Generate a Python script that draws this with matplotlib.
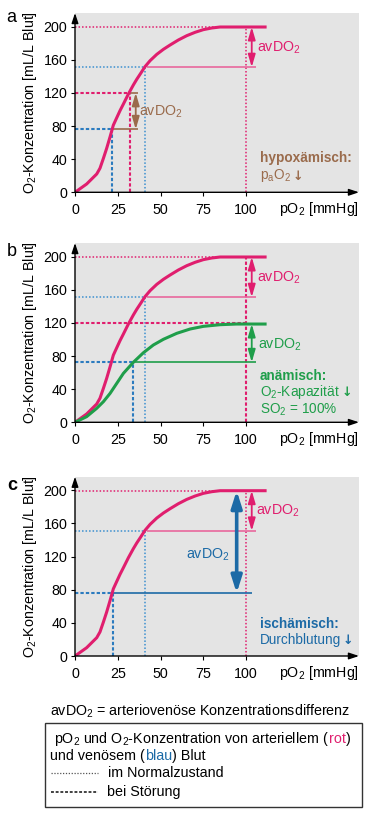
import matplotlib
matplotlib.use('Agg')
import matplotlib.pyplot as plt
from matplotlib.patches import Rectangle
from matplotlib.lines import Line2D

plt.rcParams['font.family'] = ['Liberation Sans', 'DejaVu Sans']
plt.rcParams['mathtext.fontset'] = 'custom'
plt.rcParams['mathtext.rm'] = 'Liberation Sans'
plt.rcParams['mathtext.it'] = 'Liberation Sans:italic'
plt.rcParams['mathtext.bf'] = 'Liberation Sans:bold'
plt.rcParams['mathtext.default'] = 'regular'

# ---------------- data ----------------
art_po2 = [0, 6.8, 12.7, 14.6, 16.6, 18.5, 20.5, 22.4, 24.4, 26.3, 28.3, 31.2, 34.1,
           36.1, 38.4, 40.9, 43.9, 47.8, 51.7, 55.6, 60.4, 65.3, 70.2, 75, 79.9,
           84.8, 95, 112]
art_o2 = [0, 10.0, 22.1, 29, 41, 53, 67, 81, 90, 98.5, 106.6, 118.6, 129.5,
          136.4, 143.6, 151.6, 158.9, 166.5, 172.6, 177.8, 183.8, 189, 193.1, 196.3,
          198.3, 199.5, 199.5, 199.5]
anem_po2 = [0, 6.8, 12.7, 16.6, 20.5, 24.4, 28.3, 34.1, 40, 45.8, 51.7, 59.5,
            67.3, 75, 84.8, 94.5, 112]
anem_o2 = [0, 6.8, 16.9, 24.9, 34.9, 47, 59.1, 72.4, 84, 93.3, 100.2, 107.4,
           112.6, 115.8, 117.8, 118.6, 118.6]

x_ticks = [0, 25, 50, 75, 100]
y_ticks = [0, 40, 80, 120, 160, 200]

# normal state (arterial / venous)
norm_art = (100, 199.5)
norm_ven = (41, 151)
# a: hypoxaemic
hyp_art = (32, 120)
hyp_ven = (21.8, 76)
# b: anaemic
anem_art = (100, 120)
anem_ven = (34.1, 72.4)
anem_plateau = 118.6
# c: ischaemic
isch_ven = (22.5, 76)

# ---------------- styles ----------------
RED = '#e01e6e'
PINK = '#e8689d'
BLUE_DOT = '#3b8fcf'
BLUE_D = '#2b7bbf'
BLUE = '#1c6aa6'
GREEN = '#1f9e4a'
BROWN = '#9a6b4c'
BG = '#e4e4e4'
DOT = dict(ls=(0, (1, 1.3)), lw=1.1)
DASH = dict(ls=(0, (1.6, 1.0)), lw=1.5)
FS = 10.3

W, H = 370, 818
fig = plt.figure(figsize=(W / 100, H / 100), dpi=100)
renderer = fig.canvas.get_renderer()


def make_ax(top_px):
    left, right = 75, 359
    h = 179.3
    ax = fig.add_axes([left / W, 1 - (top_px + h) / H, (right - left) / W, h / H])
    ax.set_xlim(0, 166)
    ax.set_ylim(0, 216.4)
    ax.set_facecolor(BG)
    for s in ax.spines.values():
        s.set_visible(False)
    ax.annotate('', xy=(1, 0), xycoords='axes fraction', xytext=(0, 0),
                arrowprops=dict(arrowstyle='-|>,head_length=0.6,head_width=0.2',
                                color='black', lw=1.0, shrinkA=0, shrinkB=0,
                                mutation_scale=10))
    ax.annotate('', xy=(0, 1), xycoords='axes fraction', xytext=(0, 0),
                arrowprops=dict(arrowstyle='-|>,head_length=0.6,head_width=0.2',
                                color='black', lw=1.0, shrinkA=0, shrinkB=0,
                                mutation_scale=10))
    ax.set_xticks(x_ticks)
    ax.set_yticks(y_ticks)
    ax.tick_params(axis='x', direction='out', length=3, width=0.8, labelsize=FS, pad=5)
    ax.tick_params(axis='y', direction='out', length=3, width=0.8, labelsize=FS, pad=2.5)
    ax.set_ylabel('O$_2$-Konzentration [mL/L Blut]', fontsize=FS)
    ax.yaxis.set_label_coords(-0.128, 0.5)
    ax.text(1.0, -0.095, 'pO$_2$ [mmHg]', transform=ax.transAxes, ha='right',
            va='center', fontsize=FS)
    return ax


def hl(ax, y, x0, x1, color, **kw):
    ax.plot([x0, x1], [y, y], color=color, solid_capstyle='butt', **kw)


def vl(ax, x, y0, y1, color, **kw):
    ax.plot([x, x], [y0, y1], color=color, solid_capstyle='butt', **kw)


def darrow(ax, x, y0, y1, color, lw=1.3, hl_=0.75, hw=0.22):
    ax.annotate('', xy=(x, y1), xytext=(x, y0),
                arrowprops=dict(arrowstyle='<|-|>,head_length=%g,head_width=%g' % (hl_, hw),
                                color=color, lw=lw, shrinkA=0, shrinkB=0,
                                mutation_scale=10))


def text_down(ax, x, y, s, color):
    t = ax.text(x, y, s, color=color, fontsize=FS - 0.5, va='center')
    bb = t.get_window_extent(renderer)
    fig.text((bb.x1 + 2) / W, (bb.y0 + bb.y1) / 2 / H - 0.0005, '\u2193', color=color,
             fontsize=9, fontweight='bold', family='DejaVu Sans', va='center')


def normal_marks(ax, vert_style=DOT):
    hl(ax, norm_art[1], 0, norm_art[0], RED, **DOT)
    vl(ax, norm_art[0], 0, norm_art[1], RED, **vert_style)
    hl(ax, norm_ven[1], 0, norm_ven[0], BLUE_DOT, **DOT)
    vl(ax, norm_ven[0], 0, norm_ven[1], BLUE_DOT, **DOT)
    hl(ax, norm_ven[1], 42, 106, PINK, lw=1.2)
    darrow(ax, 103.3, norm_ven[1], norm_art[1], RED)


# ---------------- panel a ----------------
ax = make_ax(13)
normal_marks(ax)
hl(ax, hyp_art[1], 0, hyp_art[0], RED, **DASH)
vl(ax, hyp_art[0], 0, hyp_art[1], RED, **DASH)
hl(ax, hyp_ven[1], 0, hyp_ven[0], BLUE_D, **DASH)
vl(ax, hyp_ven[0], 0, hyp_ven[1], BLUE_D, **DASH)
hl(ax, hyp_art[1], 31.2, 36.8, BROWN, lw=1.2)
hl(ax, hyp_ven[1], hyp_ven[0], 36.8, BROWN, lw=1.2)
darrow(ax, 35.5, hyp_ven[1], hyp_art[1], BROWN)
ax.plot(art_po2, art_o2, color=RED, lw=2.2, solid_capstyle='butt')
ax.text(106.2, 174, 'avDO$_2$', color=RED, fontsize=FS, va='center')
ax.text(37.6, 97.3, 'avDO$_2$', color=BROWN, fontsize=FS, va='center')
ax.text(108, 41, 'hypoxämisch:', color=BROWN, fontsize=FS - 0.5, fontweight='bold', va='center')
text_down(ax, 108, 20, 'p$_a$O$_2$', BROWN)
fig.text(11 / W, 1 - 18 / H, 'a', fontsize=13, ha='center', va='center')

# ---------------- panel b ----------------
ax = make_ax(243)
normal_marks(ax, vert_style=DASH)
hl(ax, anem_art[1], 0, anem_art[0], RED, **DASH)
hl(ax, anem_ven[1], 0, anem_ven[0], BLUE_D, **DASH)
vl(ax, anem_ven[0], 0, anem_ven[1], BLUE_D, **DASH)
hl(ax, anem_ven[1], anem_ven[0], 106, GREEN, lw=1.2)
darrow(ax, 103.3, anem_ven[1], anem_plateau, GREEN)
ax.plot(art_po2, art_o2, color=RED, lw=2.2, solid_capstyle='butt')
ax.plot(anem_po2, anem_o2, color=GREEN, lw=2.2, solid_capstyle='butt')
ax.text(106.2, 174, 'avDO$_2$', color=RED, fontsize=FS, va='center')
ax.text(107.2, 93.3, 'avDO$_2$', color=GREEN, fontsize=FS, va='center')
ax.text(108, 56, 'anämisch:', color=GREEN, fontsize=FS - 0.5, fontweight='bold', va='center')
text_down(ax, 108, 36, 'O$_2$-Kapazität', GREEN)
ax.text(108, 15, 'SO$_2$ = 100%', color=GREEN, fontsize=FS - 0.5, va='center')
fig.text(12 / W, 1 - 252 / H, 'b', fontsize=13, ha='center', va='center')

# ---------------- panel c ----------------
ax = make_ax(476.7)
normal_marks(ax)
hl(ax, isch_ven[1], 0, isch_ven[0], BLUE_D, **DASH)
vl(ax, isch_ven[0], 0, isch_ven[1], BLUE_D, **DASH)
hl(ax, isch_ven[1], isch_ven[0], 103.3, BLUE, lw=1.2)
darrow(ax, 94.5, isch_ven[1], norm_art[1], BLUE, lw=2.6, hl_=1.0, hw=0.32)
ax.plot(art_po2, art_o2, color=RED, lw=2.2, solid_capstyle='butt')
ax.text(106, 175.5, 'avDO$_2$', color=RED, fontsize=FS, va='center')
ax.text(90.6, 122, 'avDO$_2$', color=BLUE, fontsize=FS, va='center', ha='right')
ax.text(108, 39, 'ischämisch:', color=BLUE, fontsize=FS - 0.5, fontweight='bold', va='center')
text_down(ax, 108, 19.4, 'Durchblutung', BLUE)
fig.text(12 / W, 1 - 485 / H, 'c', fontsize=13, ha='center', va='center', fontweight='bold')

# ---------------- footer ----------------
fig.text(200.5 / W, 1 - 711 / H, 'avDO$_2$ = arteriovenöse Konzentrationsdifferenz',
         ha='center', va='center', fontsize=FS)
fig.patches.append(Rectangle((45 / W, 1 - 807 / H), (362 - 45) / W, (807 - 723) / H,
                             transform=fig.transFigure, fill=False, lw=1.0,
                             edgecolor='#333333'))


def colored_line(x_px, y_px, parts):
    x = x_px
    for s, c in parts:
        t = fig.text(x / W, 1 - y_px / H, s, color=c, fontsize=FS, va='center', ha='left')
        bb = t.get_window_extent(renderer)
        x += bb.width


colored_line(54.3, 739.3, [('pO$_2$ und O$_2$-Konzentration von arteriellem (', 'black'),
                           ('rot', RED), (')', 'black')])
colored_line(50, 755.7, [('und venösem (', 'black'), ('blau', BLUE), (') Blut', 'black')])
fig.lines.append(Line2D([50.7 / W, 98.3 / W], [1 - 773.3 / H] * 2, transform=fig.transFigure,
                        color='#555555', ls=(0, (1, 1.3)), lw=0.9))
fig.text(108.3 / W, 1 - 773.3 / H, 'im Normalzustand', fontsize=FS, va='center')
fig.lines.append(Line2D([50.7 / W, 98.3 / W], [1 - 791.7 / H] * 2, transform=fig.transFigure,
                        color='#333333', ls=(0, (1.6, 1.0)), lw=1.3))
fig.text(107.3 / W, 1 - 791.7 / H, 'bei Störung', fontsize=FS, va='center')

fig.savefig('out.png', dpi=100)
